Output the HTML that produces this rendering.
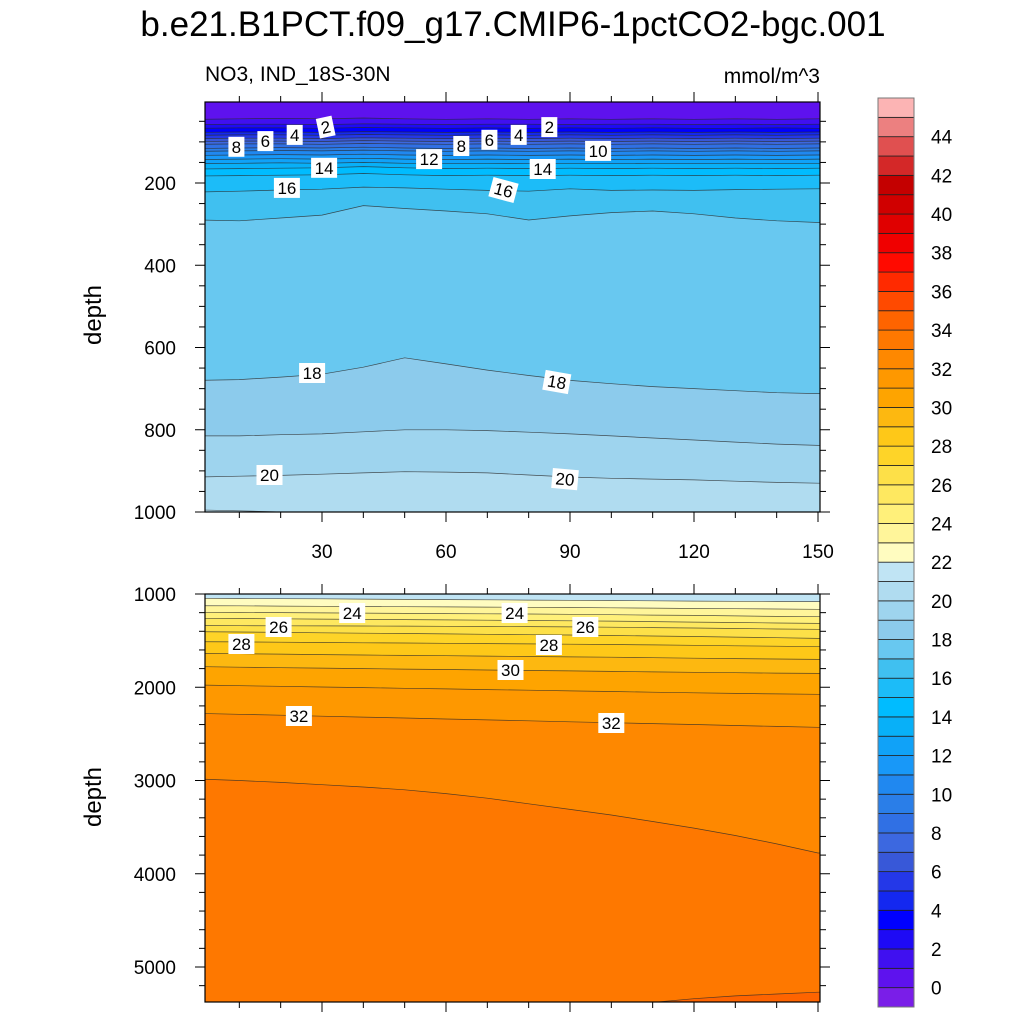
<!DOCTYPE html>
<html><head><meta charset="utf-8">
<style>
html,body{margin:0;padding:0;background:#fff;}
svg{display:block;font-family:"Liberation Sans",Arial,sans-serif;}
</style></head>
<body>
<svg id="chart" width="1024" height="1024" viewBox="0 0 1024 1024" xmlns="http://www.w3.org/2000/svg">
<text x="513" y="36" font-size="35" text-anchor="middle">b.e21.B1PCT.f09_g17.CMIP6-1pctCO2-bgc.001</text>
<text x="205" y="81" font-size="21">NO3, IND_18S-30N</text>
<text x="820" y="83" font-size="21" text-anchor="end">mmol/m^3</text>
<defs>
<clipPath id="clipTop"><rect x="205" y="102" width="615" height="410"/></clipPath>
<clipPath id="clipBot"><rect x="205" y="594" width="615" height="408"/></clipPath>
</defs>
<g id="topFill" clip-path="url(#clipTop)"></g>
<g id="botFill" clip-path="url(#clipBot)"></g>
<g id="axes"></g>
<g id="labels"></g>
<g id="cbar"></g>
</svg>
<script>
// ---- data ----
const xGrid = [0,10,20,30,40,50,60,70,80,90,100,110,120,130,140,150];
const topLevels = [1,2,3,4,5,6,7,8,9,10,11,12,13,14,15,16,17,18,19,20,21];
const topDepths = [
 [45,44,43,44,42,44,45,44,45,44,45,44,45,44,45,44],
 [58,57,57,58,56,57,58,57,57,58,57,57,58,57,58,57],
 [67,66,66,67,65,66,67,66,67,66,67,66,67,67,66,67],
 [77,76,76,77,75,76,77,76,77,76,77,76,77,76,77,76],
 [84,83,83,84,82,83,84,83,84,83,84,83,84,83,84,83],
 [92,91,91,92,90,91,92,91,92,91,92,91,92,91,92,91],
 [99,98,98,99,97,98,99,98,99,98,99,98,99,98,99,98],
 [106,105,105,106,104,105,106,105,106,105,106,105,106,105,106,105],
 [116,115,114,115,113,115,116,115,116,115,116,115,116,115,116,115],
 [123,122,121,122,120,122,123,122,123,122,123,122,123,122,123,122],
 [133,132,131,132,130,132,133,132,133,132,133,132,133,132,133,132],
 [143,142,141,142,140,142,143,142,143,142,143,142,143,142,143,142],
 [153,152,151,152,150,152,153,152,153,152,153,152,153,152,153,152],
 [166,165,164,163,160,163,165,164,165,164,165,164,165,164,165,164],
 [183,182,181,180,177,180,182,181,182,181,182,181,182,181,182,181],
 [222,220,217,215,210,212,215,218,220,214,218,217,218,216,215,214],
 [290,292,285,278,255,262,268,275,290,280,272,268,275,285,292,296],
 [680,678,672,665,648,625,640,655,668,680,688,695,700,705,710,712],
 [815,815,812,810,805,800,800,802,806,810,815,820,825,830,835,838],
 [915,913,911,908,905,902,903,905,910,915,918,920,922,925,928,930],
 [995,997,1000,1002,1003,1004,1005,1006,1008,1010,1011,1012,1013,1014,1015,1016]
];
const botLevels = [22,23,24,25,26,27,28,29,30,31,32,33,34];
const botDepths = [
 [1046,1048,1050,1052,1055,1058,1060,1062,1065,1068,1070,1073,1076,1078,1080,1082],
 [1125,1127,1130,1132,1134,1136,1138,1140,1143,1145,1148,1151,1155,1158,1161,1164],
 [1196,1198,1200,1203,1205,1208,1210,1212,1215,1218,1222,1226,1230,1235,1240,1243],
 [1261,1263,1266,1269,1272,1275,1278,1281,1284,1287,1291,1296,1301,1306,1311,1315],
 [1339,1340,1341,1342,1343,1344,1346,1348,1350,1353,1356,1360,1365,1370,1375,1379],
 [1404,1408,1412,1416,1420,1424,1428,1432,1436,1440,1445,1450,1456,1462,1469,1476],
 [1511,1514,1517,1520,1523,1526,1529,1532,1535,1538,1542,1546,1550,1555,1560,1565],
 [1636,1640,1645,1650,1654,1658,1662,1666,1670,1674,1678,1683,1688,1693,1697,1701],
 [1779,1785,1790,1795,1800,1805,1810,1815,1820,1825,1830,1835,1840,1844,1848,1851],
 [1976,1983,1990,1997,2004,2011,2018,2025,2032,2039,2046,2053,2060,2066,2071,2076],
 [2280,2290,2300,2310,2320,2330,2340,2350,2360,2370,2380,2390,2400,2410,2420,2430],
 [2984,3000,3020,3045,3070,3100,3140,3190,3250,3310,3370,3440,3510,3590,3680,3777],
 [6000,6000,6000,6000,6000,6000,6000,6000,6000,6000,5500,5380,5340,5310,5290,5270]
];
const levelColors = ["#7a1ee8","#5e12ee","#4010f0","#1e0af5","#0000ff","#1428f0","#2438e8","#3858d8","#3c68e0","#3070e4","#2a7ee8","#2088f0","#1898f8","#10a2f8","#08b0f8","#00bcff","#1cbcf8","#40c0f0","#68c8f0","#8ccbec","#9ed4ee","#b0dcf0","#c0e4f4","#fffcc0","#fff59a","#fff07a","#fee860","#fde048","#fed428","#fec818","#fdb810","#fea400","#fe9800","#fe8800","#fe7800","#fe6400","#ff4a00","#ff2a00","#ff0a00","#f00000","#e00000","#d00000","#c40000","#d42828","#e05050","#ec8080","#fcb4b4"];
const cbarLabels = [0,2,4,6,8,10,12,14,16,18,20,22,24,26,28,30,32,34,36,38,40,42,44];
const xTicks = [30,60,90,120,150];
const topYTicks = [200,400,600,800,1000];
const botYTicks = [1000,2000,3000,4000,5000];
const topLabelText = ["8","6","4","2","14","16","12","8","6","4","2","10","14","16","18","18","20","20"];
const topLabelX = [9.3,16.3,23.4,30.9,30.5,21.5,55.9,63.7,70.5,77.6,85,96.8,83.4,73.9,27.6,86.8,17.3,88.8];
const topLabelD = [112,98,83,64,163,212,142,110,95,83,64,122,166,217,662,684,910,920];
const topLabelRot = [0,0,0,-12,0,0,0,0,0,0,0,0,0,15,0,10,0,5];
const botLabelText = ["24","24","26","26","28","28","30","32","32"];
const botLabelX = [37.3,76.6,19.5,93.7,10.5,84.9,75.6,24.4,100];
const botLabelD = [1204,1204,1354,1354,1536,1547,1815,2308,2383];

// ---- scales ----
const X0=205, X1=820;
const xs = u => 198 + u*4.1333;
const ysTop = d => 100.75 + d*0.41125;
const ysBot = d => 594 + (d-1000)*0.09325;
const NS="http://www.w3.org/2000/svg";
function mk(tag, attrs, parent){const e=document.createElementNS(NS,tag);for(const k in attrs)e.setAttribute(k,attrs[k]);parent.appendChild(e);return e;}

function linePts(depths, ys){
  const pts = xGrid.map((u,j)=>[xs(u), ys(depths[j])]);
  pts.push([X1+2, ys(depths[depths.length-1])]);
  return pts;
}
function drawPanel(g, levels, depths, ys, bgIndex, yTop, yBottom, pname){
  const bg = mk('rect',{x:X0,y:yTop,width:615,height:yBottom-yTop,fill:levelColors[bgIndex]},g);
  
  
  levels.forEach((lv,i)=>{
    const pts = linePts(depths[i], ys);
    const d = 'M'+pts.map(p=>p[0].toFixed(1)+','+p[1].toFixed(1)).join(' L');
    const fillD = d + ` L${X1+2},${yBottom+50} L${X0-10},${yBottom+50} L${X0-10},${pts[0][1].toFixed(1)} Z`;
    const f = mk('path',{d:fillD,fill:levelColors[Math.min(lv+1,levelColors.length-1)],stroke:'none'},g);
    
    
  });
  levels.forEach((lv,i)=>{
    const pts = linePts(depths[i], ys);
    const d = 'M'+pts.map(p=>p[0].toFixed(1)+','+p[1].toFixed(1)).join(' L');
    const l = mk('path',{d:d,fill:'none',stroke:'#2a2a2a','stroke-width':0.7,'stroke-opacity':0.8},g);
    
    
  });
}
drawPanel(document.getElementById('topFill'), topLevels, topDepths, ysTop, 1, 102, 512, 'upper');
drawPanel(document.getElementById('botFill'), botLevels, botDepths, ysBot, 22, 594, 1002, 'lower');

// ---- axes ----
const ax = document.getElementById('axes');
function frame(yt, yb, pname){
  const r = mk('rect',{x:X0,y:yt,width:615,height:yb-yt,fill:'none',stroke:'#000','stroke-width':1.2},ax);
  
  
  for(let u=10;u<=150;u+=10){
    const major = u%30===0, len = major?10:6;
    const x = xs(u);
    mk('line',{x1:x,y1:yt,x2:x,y2:yt-len,stroke:'#000','stroke-width':1},ax);
    mk('line',{x1:x,y1:yb,x2:x,y2:yb+len,stroke:'#000','stroke-width':1},ax);
  }
}
frame(102,512,'upper'); frame(594,1002,'lower');
for(let d=50; d<=1000; d+=50){
  const y=ysTop(d); if(y<102) continue;
  const major = d%200===0, len = major?10:6;
  mk('line',{x1:X0,y1:y,x2:X0-len,y2:y,stroke:'#000','stroke-width':1},ax);
  mk('line',{x1:X1,y1:y,x2:X1+len,y2:y,stroke:'#000','stroke-width':1},ax);
}
for(let d=1000; d<=5300; d+=200){
  const y=ysBot(d);
  const major = d%1000===0, len = major?10:6;
  mk('line',{x1:X0,y1:y,x2:X0-len,y2:y,stroke:'#000','stroke-width':1},ax);
  mk('line',{x1:X1,y1:y,x2:X1+len,y2:y,stroke:'#000','stroke-width':1},ax);
}
topYTicks.forEach(v=>{
  const t=mk('text',{x:176,y:ysTop(v)+7,'font-size':19,'text-anchor':'end'},ax); t.textContent=v;
  
  
});
botYTicks.forEach(v=>{
  const t=mk('text',{x:176,y:ysBot(v)+7,'font-size':19,'text-anchor':'end'},ax); t.textContent=v;
  
  
});
xTicks.forEach(v=>{
  const t=mk('text',{x:xs(v),y:558,'font-size':19,'text-anchor':'middle'},ax); t.textContent=v;
  
  
});
[[315,'upper-y-axis-title'],[797,'lower-y-axis-title']].forEach(([y,n])=>{
  const t=mk('text',{x:101,y:y,'font-size':24,'text-anchor':'middle',transform:`rotate(-90 101 ${y})`},ax); t.textContent='depth';
  
  
});

// ---- contour labels ----
const lg = document.getElementById('labels');
function clabel(txt,u,d,ys,rot){
  const x=xs(u), y=ys(d);
  const g=mk('g',{transform:`translate(${x.toFixed(1)},${y.toFixed(1)}) rotate(${rot||0})`},lg);
  
  
  const w = txt.length*10+6;
  mk('rect',{x:-w/2,y:-10,width:w,height:20,fill:'#fff'},g);
  const t=mk('text',{x:0,y:6,'font-size':17,'text-anchor':'middle'},g); t.textContent=txt;
}
topLabelText.forEach((s,i)=>clabel(s,topLabelX[i],topLabelD[i],ysTop,topLabelRot[i]));
botLabelText.forEach((s,i)=>clabel(s,botLabelX[i],botLabelD[i],ysBot,0));

// ---- colorbar ----
const cb = document.getElementById('cbar');
const CBX=878, CBW=36, CBB=1007, CBH=(1007-98)/levelColors.length;
levelColors.forEach((c,i)=>{
  const r=mk('rect',{x:CBX,y:(CBB-(i+1)*CBH).toFixed(2),width:CBW,height:CBH.toFixed(2),fill:c,stroke:'#222','stroke-width':0.8},cb);
  
  
});
mk('rect',{x:CBX,y:98,width:CBW,height:909,fill:'none',stroke:'#777','stroke-width':1},cb);
cbarLabels.forEach(v=>{
  const y = CBB-(v+1)*CBH;
  const t=mk('text',{x:931,y:(y+7).toFixed(1),'font-size':19},cb); t.textContent=v;
  
  
});
</script>
</body></html>
